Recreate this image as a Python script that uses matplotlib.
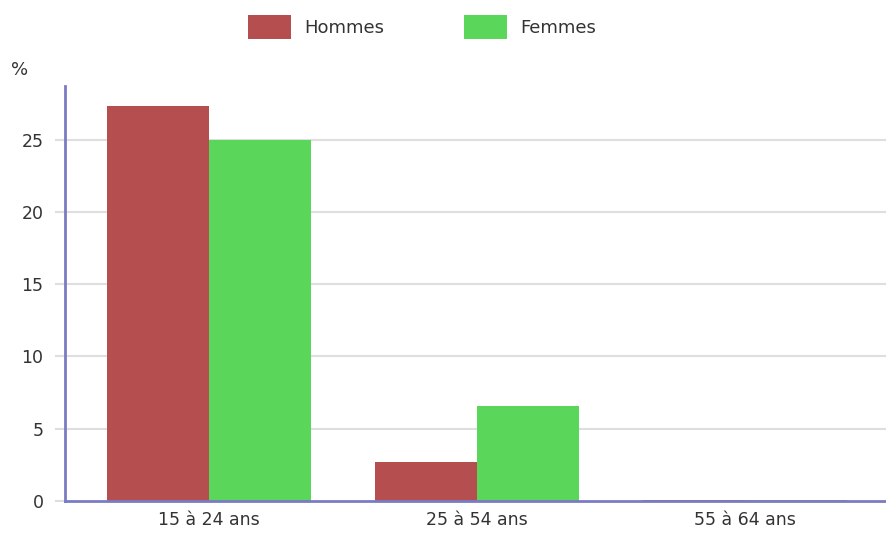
import matplotlib
matplotlib.use('Agg')
import matplotlib.pyplot as plt
import numpy as np

plt.rcParams['font.family'] = ['DejaVu Sans']

categories = ['15 à 24 ans', '25 à 54 ans', '55 à 64 ans']
hommes = [27.35, 2.72, 0.1]
femmes = [25.0, 6.6, 0.1]
yticks = [0, 5, 10, 15, 20, 25]

fig = plt.figure(figsize=(8.86, 5.35), dpi=100)
ax = fig.add_axes([65 / 886, 34 / 535, 1 - 65 / 886, (501 - 86) / 535])

x = np.arange(len(categories))
w = 0.38
ax.bar(x - w / 2, hommes, w, color='#b54f4f', label='Hommes', zorder=3)
ax.bar(x + w / 2, femmes, w, color='#5ad65a', label='Femmes', zorder=3)

ax.set_xlim(-0.537, 2.526)
ax.set_ylim(0, 28.7)
ax.set_xticks(x)
ax.set_xticklabels(categories, fontsize=12.5, color='#333333')
ax.set_yticks(yticks)
ax.set_yticklabels([str(v) for v in yticks], fontsize=12.5, color='#333333')

# grille horizontale
for v in yticks[1:]:
    ax.axhline(v, color='#dedede', lw=1.5, zorder=1)

ax.tick_params(axis='y', length=7, color='#dedede', width=1.5, pad=8.5)
ax.tick_params(axis='x', length=0, pad=7)

for s in ['top', 'right']:
    ax.spines[s].set_visible(False)
ax.spines['left'].set_color('#7b7bc4')
ax.spines['left'].set_linewidth(2)
ax.spines['bottom'].set_color('#7b7bc4')
ax.spines['bottom'].set_linewidth(2)
ax.spines['bottom'].set_zorder(4)

fig.text(20 / 886, 1 - 70 / 535, '%', fontsize=13, color='#333333',
         ha='center', va='center')

fig.legend(loc='center', bbox_to_anchor=(422 / 886, 1 - 27 / 535), ncol=2,
           frameon=False, fontsize=13, handlelength=2.4, handleheight=1.75,
           handletextpad=0.72, columnspacing=4.4, labelcolor='#333333')

fig.savefig('out.png', dpi=100)
